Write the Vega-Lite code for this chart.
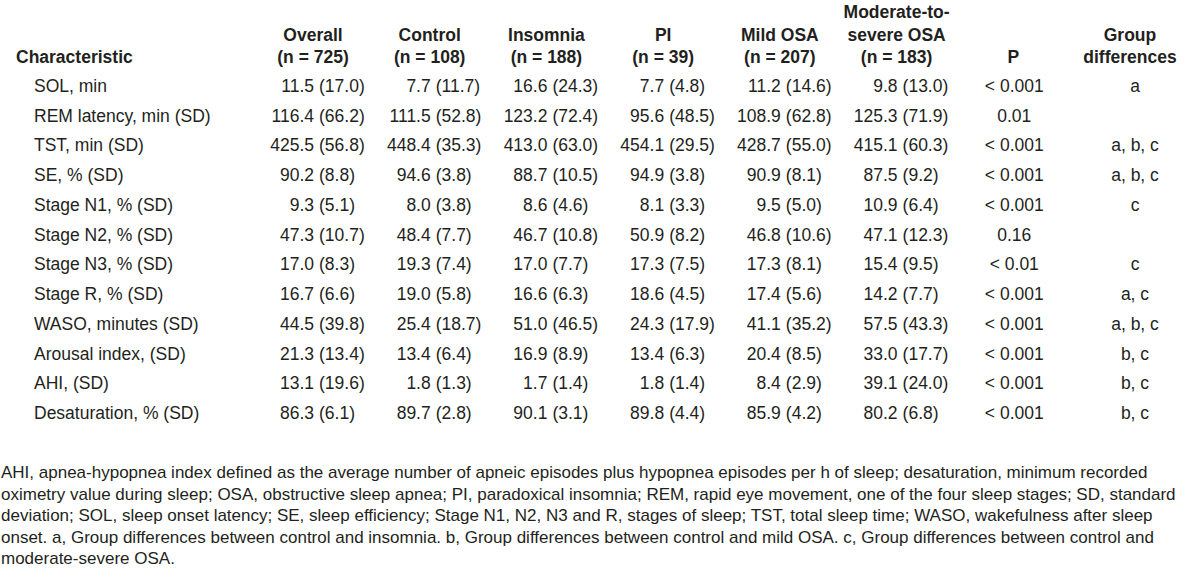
{
  "$schema": "https://vega.github.io/schema/vega-lite/v6.json",
  "width": 1200,
  "height": 582,
  "autosize": "none",
  "padding": 0,
  "background": "white",
  "config": {
    "view": {"stroke": null},
    "text": {"font": "Liberation Sans", "fontSize": 17.5, "color": "#231f20"}
  },
  "datasets": {
    "header": [
      {"g": "Overall", "line": 2, "t": "Overall"}, {"g": "Overall", "line": 3, "t": "(n = 725)"},
      {"g": "Control", "line": 2, "t": "Control"}, {"g": "Control", "line": 3, "t": "(n = 108)"},
      {"g": "Insomnia", "line": 2, "t": "Insomnia"}, {"g": "Insomnia", "line": 3, "t": "(n = 188)"},
      {"g": "PI", "line": 2, "t": "PI"}, {"g": "PI", "line": 3, "t": "(n = 39)"},
      {"g": "Mild OSA", "line": 2, "t": "Mild OSA"}, {"g": "Mild OSA", "line": 3, "t": "(n = 207)"},
      {"g": "Moderate-to-severe OSA", "line": 1, "t": "Moderate-to-"},
      {"g": "Moderate-to-severe OSA", "line": 2, "t": "severe OSA"},
      {"g": "Moderate-to-severe OSA", "line": 3, "t": "(n = 183)"},
      {"g": "P", "line": 3, "t": "P"},
      {"g": "Group differences", "line": 2, "t": "Group"},
      {"g": "Group differences", "line": 3, "t": "differences"}
    ],
    "rows": [
      {"c": "SOL, min", "p": "< 0.001", "d": "a"},
      {"c": "REM latency, min (SD)", "p": "0.01", "d": ""},
      {"c": "TST, min (SD)", "p": "< 0.001", "d": "a, b, c"},
      {"c": "SE, % (SD)", "p": "< 0.001", "d": "a, b, c"},
      {"c": "Stage N1, % (SD)", "p": "< 0.001", "d": "c"},
      {"c": "Stage N2, % (SD)", "p": "0.16", "d": ""},
      {"c": "Stage N3, % (SD)", "p": "< 0.01", "d": "c"},
      {"c": "Stage R, % (SD)", "p": "< 0.001", "d": "a, c"},
      {"c": "WASO, minutes (SD)", "p": "< 0.001", "d": "a, b, c"},
      {"c": "Arousal index, (SD)", "p": "< 0.001", "d": "b, c"},
      {"c": "AHI, (SD)", "p": "< 0.001", "d": "b, c"},
      {"c": "Desaturation, % (SD)", "p": "< 0.001", "d": "b, c"}
    ],
    "cells": [
      {"c": "SOL, min", "g": "Overall", "m": "11.5", "s": "(17.0)"},
      {"c": "SOL, min", "g": "Control", "m": "7.7", "s": "(11.7)"},
      {"c": "SOL, min", "g": "Insomnia", "m": "16.6", "s": "(24.3)"},
      {"c": "SOL, min", "g": "PI", "m": "7.7", "s": "(4.8)"},
      {"c": "SOL, min", "g": "Mild OSA", "m": "11.2", "s": "(14.6)"},
      {"c": "SOL, min", "g": "Moderate-to-severe OSA", "m": "9.8", "s": "(13.0)"},
      {"c": "REM latency, min (SD)", "g": "Overall", "m": "116.4", "s": "(66.2)"},
      {"c": "REM latency, min (SD)", "g": "Control", "m": "111.5", "s": "(52.8)"},
      {"c": "REM latency, min (SD)", "g": "Insomnia", "m": "123.2", "s": "(72.4)"},
      {"c": "REM latency, min (SD)", "g": "PI", "m": "95.6", "s": "(48.5)"},
      {"c": "REM latency, min (SD)", "g": "Mild OSA", "m": "108.9", "s": "(62.8)"},
      {"c": "REM latency, min (SD)", "g": "Moderate-to-severe OSA", "m": "125.3", "s": "(71.9)"},
      {"c": "TST, min (SD)", "g": "Overall", "m": "425.5", "s": "(56.8)"},
      {"c": "TST, min (SD)", "g": "Control", "m": "448.4", "s": "(35.3)"},
      {"c": "TST, min (SD)", "g": "Insomnia", "m": "413.0", "s": "(63.0)"},
      {"c": "TST, min (SD)", "g": "PI", "m": "454.1", "s": "(29.5)"},
      {"c": "TST, min (SD)", "g": "Mild OSA", "m": "428.7", "s": "(55.0)"},
      {"c": "TST, min (SD)", "g": "Moderate-to-severe OSA", "m": "415.1", "s": "(60.3)"},
      {"c": "SE, % (SD)", "g": "Overall", "m": "90.2", "s": "(8.8)"},
      {"c": "SE, % (SD)", "g": "Control", "m": "94.6", "s": "(3.8)"},
      {"c": "SE, % (SD)", "g": "Insomnia", "m": "88.7", "s": "(10.5)"},
      {"c": "SE, % (SD)", "g": "PI", "m": "94.9", "s": "(3.8)"},
      {"c": "SE, % (SD)", "g": "Mild OSA", "m": "90.9", "s": "(8.1)"},
      {"c": "SE, % (SD)", "g": "Moderate-to-severe OSA", "m": "87.5", "s": "(9.2)"},
      {"c": "Stage N1, % (SD)", "g": "Overall", "m": "9.3", "s": "(5.1)"},
      {"c": "Stage N1, % (SD)", "g": "Control", "m": "8.0", "s": "(3.8)"},
      {"c": "Stage N1, % (SD)", "g": "Insomnia", "m": "8.6", "s": "(4.6)"},
      {"c": "Stage N1, % (SD)", "g": "PI", "m": "8.1", "s": "(3.3)"},
      {"c": "Stage N1, % (SD)", "g": "Mild OSA", "m": "9.5", "s": "(5.0)"},
      {"c": "Stage N1, % (SD)", "g": "Moderate-to-severe OSA", "m": "10.9", "s": "(6.4)"},
      {"c": "Stage N2, % (SD)", "g": "Overall", "m": "47.3", "s": "(10.7)"},
      {"c": "Stage N2, % (SD)", "g": "Control", "m": "48.4", "s": "(7.7)"},
      {"c": "Stage N2, % (SD)", "g": "Insomnia", "m": "46.7", "s": "(10.8)"},
      {"c": "Stage N2, % (SD)", "g": "PI", "m": "50.9", "s": "(8.2)"},
      {"c": "Stage N2, % (SD)", "g": "Mild OSA", "m": "46.8", "s": "(10.6)"},
      {"c": "Stage N2, % (SD)", "g": "Moderate-to-severe OSA", "m": "47.1", "s": "(12.3)"},
      {"c": "Stage N3, % (SD)", "g": "Overall", "m": "17.0", "s": "(8.3)"},
      {"c": "Stage N3, % (SD)", "g": "Control", "m": "19.3", "s": "(7.4)"},
      {"c": "Stage N3, % (SD)", "g": "Insomnia", "m": "17.0", "s": "(7.7)"},
      {"c": "Stage N3, % (SD)", "g": "PI", "m": "17.3", "s": "(7.5)"},
      {"c": "Stage N3, % (SD)", "g": "Mild OSA", "m": "17.3", "s": "(8.1)"},
      {"c": "Stage N3, % (SD)", "g": "Moderate-to-severe OSA", "m": "15.4", "s": "(9.5)"},
      {"c": "Stage R, % (SD)", "g": "Overall", "m": "16.7", "s": "(6.6)"},
      {"c": "Stage R, % (SD)", "g": "Control", "m": "19.0", "s": "(5.8)"},
      {"c": "Stage R, % (SD)", "g": "Insomnia", "m": "16.6", "s": "(6.3)"},
      {"c": "Stage R, % (SD)", "g": "PI", "m": "18.6", "s": "(4.5)"},
      {"c": "Stage R, % (SD)", "g": "Mild OSA", "m": "17.4", "s": "(5.6)"},
      {"c": "Stage R, % (SD)", "g": "Moderate-to-severe OSA", "m": "14.2", "s": "(7.7)"},
      {"c": "WASO, minutes (SD)", "g": "Overall", "m": "44.5", "s": "(39.8)"},
      {"c": "WASO, minutes (SD)", "g": "Control", "m": "25.4", "s": "(18.7)"},
      {"c": "WASO, minutes (SD)", "g": "Insomnia", "m": "51.0", "s": "(46.5)"},
      {"c": "WASO, minutes (SD)", "g": "PI", "m": "24.3", "s": "(17.9)"},
      {"c": "WASO, minutes (SD)", "g": "Mild OSA", "m": "41.1", "s": "(35.2)"},
      {"c": "WASO, minutes (SD)", "g": "Moderate-to-severe OSA", "m": "57.5", "s": "(43.3)"},
      {"c": "Arousal index, (SD)", "g": "Overall", "m": "21.3", "s": "(13.4)"},
      {"c": "Arousal index, (SD)", "g": "Control", "m": "13.4", "s": "(6.4)"},
      {"c": "Arousal index, (SD)", "g": "Insomnia", "m": "16.9", "s": "(8.9)"},
      {"c": "Arousal index, (SD)", "g": "PI", "m": "13.4", "s": "(6.3)"},
      {"c": "Arousal index, (SD)", "g": "Mild OSA", "m": "20.4", "s": "(8.5)"},
      {"c": "Arousal index, (SD)", "g": "Moderate-to-severe OSA", "m": "33.0", "s": "(17.7)"},
      {"c": "AHI, (SD)", "g": "Overall", "m": "13.1", "s": "(19.6)"},
      {"c": "AHI, (SD)", "g": "Control", "m": "1.8", "s": "(1.3)"},
      {"c": "AHI, (SD)", "g": "Insomnia", "m": "1.7", "s": "(1.4)"},
      {"c": "AHI, (SD)", "g": "PI", "m": "1.8", "s": "(1.4)"},
      {"c": "AHI, (SD)", "g": "Mild OSA", "m": "8.4", "s": "(2.9)"},
      {"c": "AHI, (SD)", "g": "Moderate-to-severe OSA", "m": "39.1", "s": "(24.0)"},
      {"c": "Desaturation, % (SD)", "g": "Overall", "m": "86.3", "s": "(6.1)"},
      {"c": "Desaturation, % (SD)", "g": "Control", "m": "89.7", "s": "(2.8)"},
      {"c": "Desaturation, % (SD)", "g": "Insomnia", "m": "90.1", "s": "(3.1)"},
      {"c": "Desaturation, % (SD)", "g": "PI", "m": "89.8", "s": "(4.4)"},
      {"c": "Desaturation, % (SD)", "g": "Mild OSA", "m": "85.9", "s": "(4.2)"},
      {"c": "Desaturation, % (SD)", "g": "Moderate-to-severe OSA", "m": "80.2", "s": "(6.8)"}
    ],
    "notes": [
      {"line": 1, "t": "AHI, apnea-hypopnea index defined as the average number of apneic episodes plus hypopnea episodes per h of sleep; desaturation, minimum recorded"},
      {"line": 2, "t": "oximetry value during sleep; OSA, obstructive sleep apnea; PI, paradoxical insomnia; REM, rapid eye movement, one of the four sleep stages; SD, standard"},
      {"line": 3, "t": "deviation; SOL, sleep onset latency; SE, sleep efficiency; Stage N1, N2, N3 and R, stages of sleep; TST, total sleep time; WASO, wakefulness after sleep"},
      {"line": 4, "t": "onset. a, Group differences between control and insomnia. b, Group differences between control and mild OSA. c, Group differences between control and"},
      {"line": 5, "t": "moderate-severe OSA."}
    ]
  },
  "resolve": {"scale": {"y": "independent", "x": "shared"}},
  "layer": [
    {
      "data": {"name": "header"},
      "mark": {"type": "text", "fontWeight": "bold", "align": "center", "baseline": "middle"},
      "encoding": {
        "x": {"field": "g", "type": "nominal", "axis": null,
              "scale": {"type": "point", "padding": 0, "domain": ["Overall", "Control", "Insomnia", "PI", "Mild OSA", "Moderate-to-severe OSA", "P", "Group differences"], "range": [313, 1130]}},
        "y": {"field": "line", "type": "ordinal", "axis": null, "scale": {"type": "point", "padding": 0, "domain": [1, 2, 3], "range": [13, 58]}},
        "text": {"field": "t"}
      }
    },
    {
      "data": {"values": [{"t": "Characteristic", "line": 3}]},
      "mark": {"type": "text", "fontWeight": "bold", "align": "left", "baseline": "middle", "dx": -297},
      "encoding": {
        "x": {"datum": "Overall", "type": "nominal", "axis": null},
        "y": {"field": "line", "type": "ordinal", "axis": null, "scale": {"type": "point", "padding": 0, "domain": [1, 2, 3], "range": [13, 58]}},
        "text": {"field": "t"}
      }
    },
    {
      "data": {"name": "rows"},
      "mark": {"type": "text", "align": "left", "baseline": "middle", "dx": -279},
      "encoding": {
        "x": {"datum": "Overall", "type": "nominal", "axis": null},
        "y": {"field": "c", "type": "nominal", "axis": null, "sort": null,
              "scale": {"type": "point", "padding": 0, "domain": ["SOL, min", "REM latency, min (SD)", "TST, min (SD)", "SE, % (SD)", "Stage N1, % (SD)", "Stage N2, % (SD)", "Stage N3, % (SD)", "Stage R, % (SD)", "WASO, minutes (SD)", "Arousal index, (SD)", "AHI, (SD)", "Desaturation, % (SD)"], "range": [87, 414]}},
        "text": {"field": "c"}
      }
    },
    {
      "data": {"name": "cells"},
      "mark": {"type": "text", "align": "right", "baseline": "middle", "dx": 1},
      "encoding": {
        "x": {"field": "g", "type": "nominal", "axis": null},
        "y": {"field": "c", "type": "nominal", "axis": null, "sort": null,
              "scale": {"type": "point", "padding": 0, "domain": ["SOL, min", "REM latency, min (SD)", "TST, min (SD)", "SE, % (SD)", "Stage N1, % (SD)", "Stage N2, % (SD)", "Stage N3, % (SD)", "Stage R, % (SD)", "WASO, minutes (SD)", "Arousal index, (SD)", "AHI, (SD)", "Desaturation, % (SD)"], "range": [87, 414]}},
        "text": {"field": "m"}
      }
    },
    {
      "data": {"name": "cells"},
      "mark": {"type": "text", "align": "left", "baseline": "middle", "dx": 6},
      "encoding": {
        "x": {"field": "g", "type": "nominal", "axis": null},
        "y": {"field": "c", "type": "nominal", "axis": null, "sort": null,
              "scale": {"type": "point", "padding": 0, "domain": ["SOL, min", "REM latency, min (SD)", "TST, min (SD)", "SE, % (SD)", "Stage N1, % (SD)", "Stage N2, % (SD)", "Stage N3, % (SD)", "Stage R, % (SD)", "WASO, minutes (SD)", "Arousal index, (SD)", "AHI, (SD)", "Desaturation, % (SD)"], "range": [87, 414]}},
        "text": {"field": "s"}
      }
    },
    {
      "data": {"name": "rows"},
      "mark": {"type": "text", "align": "center", "baseline": "middle", "dx": 1},
      "encoding": {
        "x": {"datum": "P", "type": "nominal", "axis": null},
        "y": {"field": "c", "type": "nominal", "axis": null, "sort": null,
              "scale": {"type": "point", "padding": 0, "domain": ["SOL, min", "REM latency, min (SD)", "TST, min (SD)", "SE, % (SD)", "Stage N1, % (SD)", "Stage N2, % (SD)", "Stage N3, % (SD)", "Stage R, % (SD)", "WASO, minutes (SD)", "Arousal index, (SD)", "AHI, (SD)", "Desaturation, % (SD)"], "range": [87, 414]}},
        "text": {"field": "p"}
      }
    },
    {
      "data": {"name": "rows"},
      "mark": {"type": "text", "align": "center", "baseline": "middle", "dx": 5},
      "encoding": {
        "x": {"datum": "Group differences", "type": "nominal", "axis": null},
        "y": {"field": "c", "type": "nominal", "axis": null, "sort": null,
              "scale": {"type": "point", "padding": 0, "domain": ["SOL, min", "REM latency, min (SD)", "TST, min (SD)", "SE, % (SD)", "Stage N1, % (SD)", "Stage N2, % (SD)", "Stage N3, % (SD)", "Stage R, % (SD)", "WASO, minutes (SD)", "Arousal index, (SD)", "AHI, (SD)", "Desaturation, % (SD)"], "range": [87, 414]}},
        "text": {"field": "d"}
      }
    },
    {
      "data": {"name": "notes"},
      "mark": {"type": "text", "align": "left", "baseline": "middle", "dx": -312, "fontSize": 17},
      "encoding": {
        "x": {"datum": "Overall", "type": "nominal", "axis": null},
        "y": {"field": "line", "type": "ordinal", "axis": null, "scale": {"type": "point", "padding": 0, "domain": [1, 2, 3, 4, 5], "range": [473, 559]}},
        "text": {"field": "t"}
      }
    }
  ]
}
